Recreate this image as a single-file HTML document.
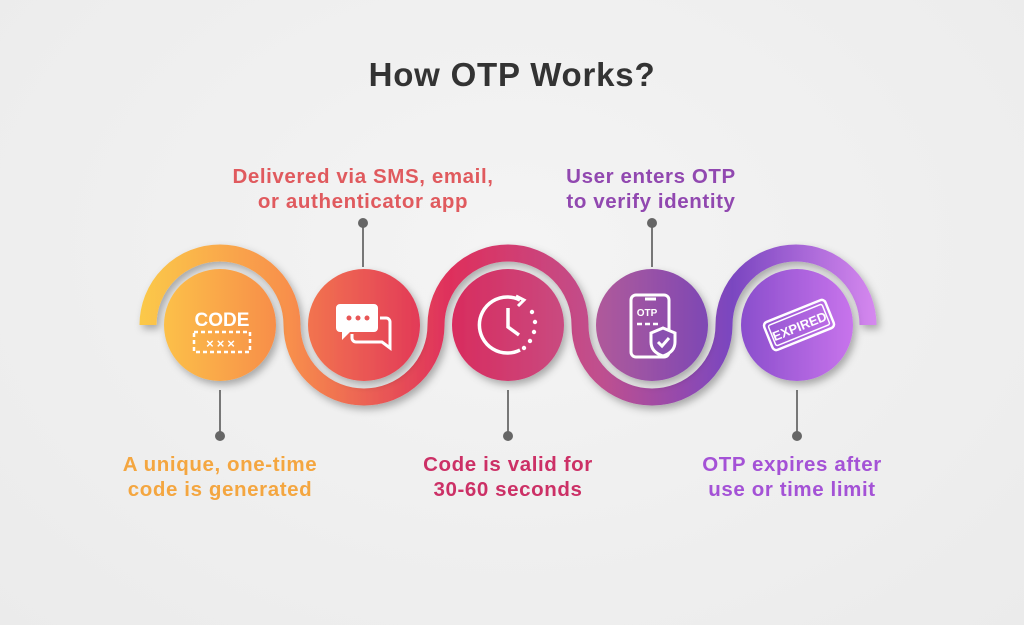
<!DOCTYPE html>
<html><head><meta charset="utf-8"><style>
html,body{margin:0;padding:0}
body{width:1024px;height:625px;overflow:hidden;background:radial-gradient(ellipse at 50% 40%,#f4f4f4 0%,#ebebeb 100%);font-family:"Liberation Sans",sans-serif;position:relative}
.t{position:absolute;font-weight:bold;text-align:center;font-size:20.5px;letter-spacing:0.6px;line-height:25px;width:340px}
</style></head><body>
<div style="position:absolute;left:0;width:1024px;top:56px;text-align:center;font-weight:bold;font-size:33px;letter-spacing:0.8px;color:#333">How OTP Works?</div>
<div class="t" style="left:193px;top:164px;color:#e05a5e">Delivered via SMS, email,<br>or authenticator app</div>
<div class="t" style="left:481px;top:164px;color:#9148b0">User enters OTP<br>to verify identity</div>
<div class="t" style="left:50px;top:452px;color:#f4a640">A unique, one-time<br>code is generated</div>
<div class="t" style="left:338px;top:452px;color:#cc3066">Code is valid for<br>30-60 seconds</div>
<div class="t" style="left:622px;top:452px;color:#a452d6">OTP expires after<br>use or time limit</div>
<svg width="1024" height="625" style="position:absolute;left:0;top:0">
<defs>
<linearGradient id="rb" x1="140" x2="880" y1="0" y2="0" gradientUnits="userSpaceOnUse">
<stop offset="0" stop-color="#fbc94a"/><stop offset="0.2" stop-color="#f8904c"/><stop offset="0.42" stop-color="#de2f5c"/><stop offset="0.62" stop-color="#c0508e"/><stop offset="0.8" stop-color="#7a46c0"/><stop offset="1" stop-color="#d88af0"/></linearGradient>
<linearGradient id="c1" x1="0" x2="1"><stop offset="0" stop-color="#fcc048"/><stop offset="1" stop-color="#f78e4a"/></linearGradient>
<linearGradient id="c2" x1="0" x2="1"><stop offset="0" stop-color="#f2744f"/><stop offset="1" stop-color="#e23a58"/></linearGradient>
<linearGradient id="c3" x1="0" x2="1"><stop offset="0" stop-color="#d82c5e"/><stop offset="1" stop-color="#c94a80"/></linearGradient>
<linearGradient id="c4" x1="0" x2="1"><stop offset="0" stop-color="#b05a9a"/><stop offset="1" stop-color="#7e48b4"/></linearGradient>
<linearGradient id="c5" x1="0" x2="1"><stop offset="0" stop-color="#8a4ecc"/><stop offset="1" stop-color="#c874ec"/></linearGradient>
<filter id="sh" x="-30%" y="-30%" width="160%" height="160%"><feDropShadow dx="3" dy="4" stdDeviation="4" flood-opacity="0.3"/></filter>
</defs>
<path d="M148 325 A72 72 0 0 1 292 325 A72 72 0 0 0 436 325 A72 72 0 0 1 580 325 A72 72 0 0 0 724 325 A72 72 0 0 1 868 325" fill="none" stroke="url(#rb)" stroke-width="17" filter="url(#sh)"/>
<g stroke="#777" stroke-width="2"><line x1="363" y1="223" x2="363" y2="267"/><line x1="652" y1="223" x2="652" y2="267"/><line x1="220" y1="390" x2="220" y2="436"/><line x1="508" y1="390" x2="508" y2="436"/><line x1="797" y1="390" x2="797" y2="436"/></g>
<g fill="#666"><circle cx="363" cy="223" r="5"/><circle cx="652" cy="223" r="5"/><circle cx="220" cy="436" r="5"/><circle cx="508" cy="436" r="5"/><circle cx="797" cy="436" r="5"/></g>
<g filter="url(#sh)"><circle cx="220" cy="325" r="56" fill="url(#c1)"/><circle cx="364" cy="325" r="56" fill="url(#c2)"/><circle cx="508" cy="325" r="56" fill="url(#c3)"/><circle cx="652" cy="325" r="56" fill="url(#c4)"/><circle cx="797" cy="325" r="56" fill="url(#c5)"/></g>
<g fill="none" stroke="#fff" stroke-width="3">
<text x="222" y="326" fill="#fff" stroke="none" font-size="19" font-weight="bold" text-anchor="middle" font-family="Liberation Sans">CODE</text>
<rect x="194" y="332" width="56" height="20" stroke-dasharray="4 3" stroke-width="2.5"/>
<text x="222" y="348" fill="#fff" stroke="none" font-size="13" font-weight="bold" text-anchor="middle" letter-spacing="3">×××</text>
<path d="M340 304 h34 a4 4 0 0 1 4 4 v20 a4 4 0 0 1 -4 4 h-24 l-8 8 v-8 h-2 a4 4 0 0 1 -4 -4 v-20 a4 4 0 0 1 4 -4z" fill="#fff" stroke="none"/>
<path d="M380 318 h6 a4 4 0 0 1 4 4 v18 v8 l-8 -6 h-26 a4 4 0 0 1 -4 -4 v-4"/>
<circle cx="349" cy="318" r="2.5" fill="#e85656" stroke="none"/><circle cx="358" cy="318" r="2.5" fill="#e85656" stroke="none"/><circle cx="367" cy="318" r="2.5" fill="#e85656" stroke="none"/>
<path d="M520 300 A28 28 0 1 0 520 350" stroke-width="3.5"/><path d="M516 296 l8 4 -6 6" stroke-width="3"/>
<g fill="#fff" stroke="none"><circle cx="532" cy="312" r="2.2"/><circle cx="535" cy="322" r="2.2"/><circle cx="534" cy="332" r="2.2"/><circle cx="530" cy="341" r="2.2"/><circle cx="524" cy="348" r="2.2"/></g>
<path d="M508 308 v19 l11 8" stroke-width="3.5"/>
<rect x="631" y="295" width="38" height="62" rx="5"/><line x1="645" y1="299" x2="656" y2="299"/>
<text x="647" y="316" fill="#fff" stroke="none" font-size="10" font-weight="bold" text-anchor="middle">OTP</text>
<line x1="637" y1="324" x2="660" y2="324" stroke-dasharray="5 3" stroke-width="2.5"/>
<path d="M663 328 l12 5 v9 c0 8 -6 12 -12 14 c-6 -2 -12 -6 -12 -14 v-9z" fill="#8a50b0"/><path d="M658 342 l4 4 7 -8"/>
<g transform="rotate(-22 799 325)"><rect x="766" y="310" width="66" height="30" rx="4" stroke-width="2.5"/><rect x="770" y="314" width="58" height="22" rx="2" stroke-width="1.5"/>
<text x="799" y="331" fill="#fff" stroke="none" font-size="13" font-weight="bold" text-anchor="middle">EXPIRED</text></g>
</g>
</svg>
</body></html>
